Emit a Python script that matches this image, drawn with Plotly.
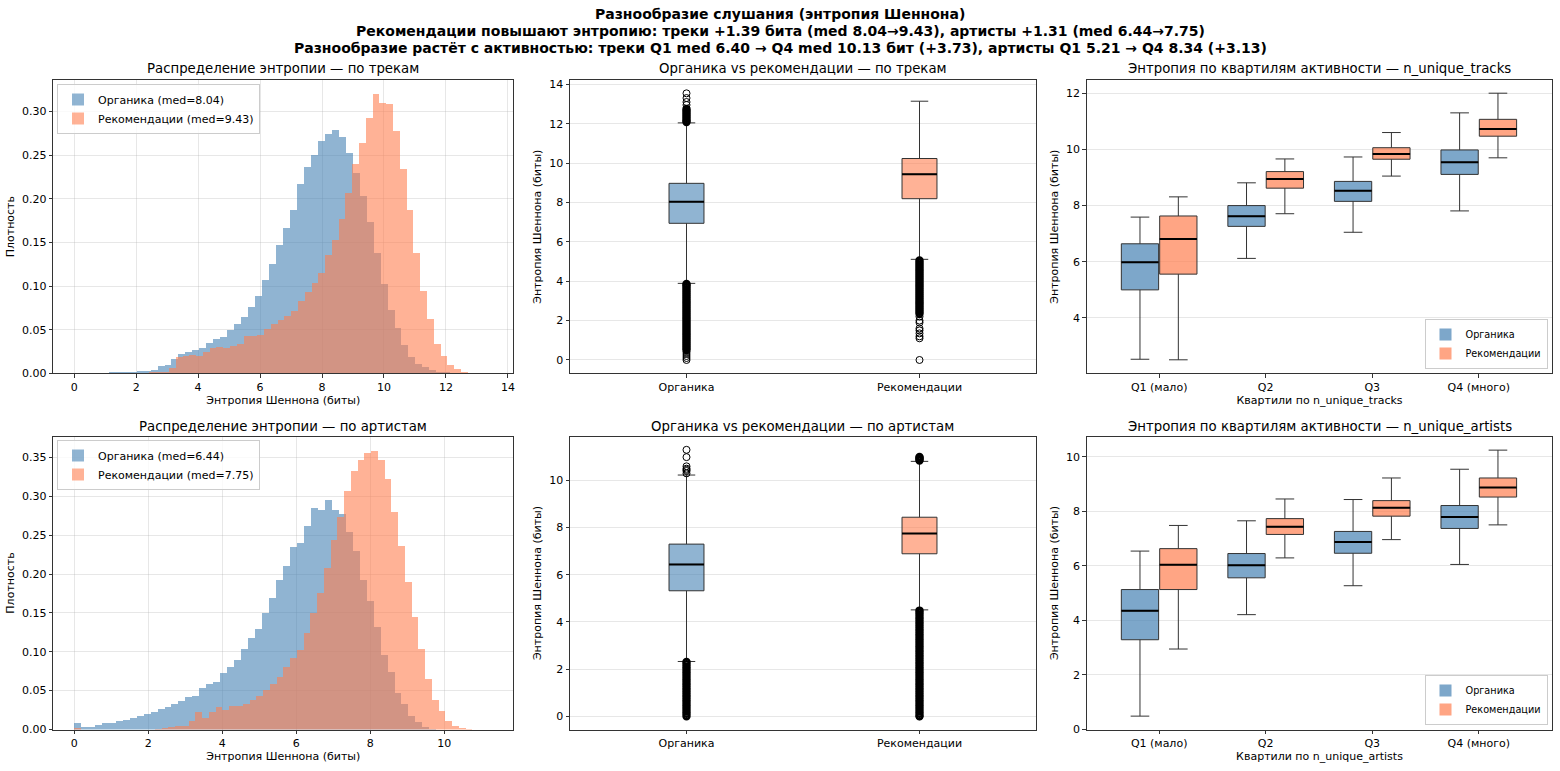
import plotly.graph_objects as go
from plotly.subplots import make_subplots

# ---------------- DATA ----------------
# Histogram densities (60 bins each), bins span [start, end]
tracks_org_range = [0.0, 13.5]
tracks_org_density = [
    0, 0, 0, 0, 0, 0.001, 0.001, 0.001, 0.0015, 0.003,
    0.003, 0.004, 0.008, 0.010, 0.016, 0.022, 0.024, 0.027, 0.029, 0.035,
    0.039, 0.042, 0.050, 0.057, 0.064, 0.076, 0.089, 0.107, 0.125, 0.147,
    0.167, 0.187, 0.217, 0.236, 0.250, 0.266, 0.274, 0.279, 0.271, 0.252,
    0.229, 0.203, 0.173, 0.138, 0.102, 0.072, 0.052, 0.032, 0.019, 0.011,
    0.007, 0.004, 0.002, 0.001, 0.0005, 0.0003, 0.0002, 0.0001, 0.0001, 0.0001,
]
tracks_rec_range = [0.0, 13.15]
tracks_rec_density = [
    0.0003, 0, 0, 0, 0, 0.0003, 0.0003, 0.0003, 0.0003, 0.0003,
    0.0005, 0.001, 0.001, 0.002, 0.006, 0.019, 0.020, 0.021, 0.020, 0.024,
    0.029, 0.030, 0.029, 0.031, 0.034, 0.043, 0.043, 0.044, 0.051, 0.056,
    0.061, 0.066, 0.071, 0.083, 0.093, 0.103, 0.115, 0.136, 0.153, 0.177,
    0.206, 0.240, 0.264, 0.293, 0.320, 0.310, 0.308, 0.278, 0.234, 0.187,
    0.138, 0.094, 0.062, 0.034, 0.020, 0.010, 0.005, 0.002, 0.0005, 0.0003,
]
artists_org_range = [0.0, 11.3]
artists_org_density = [
    0.0086, 0.0043, 0.0043, 0.0065, 0.009, 0.009, 0.011, 0.013, 0.016, 0.018,
    0.021, 0.023, 0.027, 0.030, 0.034, 0.037, 0.042, 0.044, 0.054, 0.059,
    0.062, 0.073, 0.081, 0.090, 0.104, 0.119, 0.130, 0.151, 0.170, 0.193,
    0.211, 0.236, 0.241, 0.262, 0.286, 0.283, 0.296, 0.283, 0.278, 0.255,
    0.230, 0.193, 0.166, 0.132, 0.097, 0.074, 0.048, 0.033, 0.018, 0.010,
    0.0035, 0.0015, 0.0005, 0.0003, 0.0002, 0.0001, 0.0001, 0.0001, 0.0001, 0.0001,
]
artists_rec_range = [0.0, 10.95]
artists_rec_density = [
    0.002, 0.0005, 0.0005, 0.0005, 0.0005, 0.0005, 0.0005, 0.0005, 0.0005, 0.0005,
    0.0005, 0.0005, 0.001, 0.002, 0.004, 0.005, 0.005, 0.011, 0.023, 0.015,
    0.023, 0.029, 0.026, 0.031, 0.031, 0.034, 0.038, 0.044, 0.051, 0.059,
    0.068, 0.081, 0.093, 0.103, 0.125, 0.150, 0.176, 0.209, 0.245, 0.274,
    0.307, 0.333, 0.348, 0.356, 0.359, 0.347, 0.323, 0.281, 0.237, 0.191,
    0.146, 0.104, 0.066, 0.039, 0.024, 0.012, 0.005, 0.002, 0.001, 0.0005,
]
med_tracks = [8.04, 9.43]
med_artists = [6.44, 7.75]

# Overall box stats: [lowerfence, q1, median, q3, upperfence]
box_labels = ["Органика", "Рекомендации"]
box_tracks_org = [3.89, 6.94, 8.04, 8.97, 12.04]
box_tracks_rec = [5.11, 8.19, 9.43, 10.23, 13.14]
box_artists_org = [2.32, 5.32, 6.44, 7.30, 10.23]
box_artists_rec = [4.51, 6.89, 7.75, 8.44, 10.81]

out_tracks_org_dense = [0.5, 0.6, 0.7, 0.8, 0.9, 1.0, 1.1, 1.2, 1.3, 1.4, 1.5, 1.6, 1.7, 1.8,
                        1.9, 2.0, 2.1, 2.2, 2.3, 2.4, 2.5, 2.6, 2.7, 2.8, 2.9, 3.0, 3.1, 3.2,
                        3.3, 3.4, 3.5, 3.6, 3.7, 3.8, 3.86,
                        12.08, 12.15, 12.25, 12.35, 12.45, 12.55, 12.65, 12.75]
out_tracks_org_sparse = [0.0, 0.1, 0.2, 0.3, 0.4, 12.95, 13.1, 13.3, 13.54]
out_tracks_rec_dense = [2.35, 2.45, 2.55, 2.65, 2.75, 2.85, 2.95, 3.05, 3.15, 3.25, 3.35, 3.45,
                        3.55, 3.65, 3.75, 3.85, 3.95, 4.05, 4.15, 4.25, 4.35, 4.45, 4.55, 4.65,
                        4.75, 4.85, 4.95, 5.05]
out_tracks_rec_sparse = [0.0, 1.1, 1.2, 1.35, 1.5, 1.6, 1.9, 2.0, 2.2]
out_artists_org_dense = [0.0, 0.1, 0.2, 0.3, 0.4, 0.5, 0.6, 0.7, 0.8, 0.9, 1.0, 1.1, 1.2, 1.3,
                         1.4, 1.5, 1.6, 1.7, 1.8, 1.9, 2.0, 2.1, 2.2, 2.3]
out_artists_org_sparse = [10.3, 10.4, 10.45, 10.5, 10.6, 10.99, 11.3]
out_artists_rec_dense = [0.0, 0.1, 0.2, 0.3, 0.4, 0.5, 0.6, 0.7, 0.8, 0.9, 1.0, 1.1, 1.2, 1.3,
                         1.4, 1.5, 1.6, 1.7, 1.8, 1.9, 2.0, 2.1, 2.2, 2.3, 2.4, 2.5, 2.6, 2.7,
                         2.8, 2.9, 3.0, 3.1, 3.2, 3.3, 3.4, 3.5, 3.6, 3.7, 3.8, 3.9, 4.0, 4.1,
                         4.2, 4.3, 4.4, 4.48, 10.85, 10.9, 10.95, 11.0]
out_artists_rec_sparse = [0.0]

# Quartile boxes: categories and stats per quartile
quartile_labels = ["Q1 (мало)", "Q2", "Q3", "Q4 (много)"]
qt_org_low = [2.53, 6.12, 7.05, 7.81]
qt_org_q1 = [5.00, 7.26, 8.15, 9.11]
qt_org_med = [5.98, 7.62, 8.53, 9.54]
qt_org_q3 = [6.64, 8.00, 8.86, 9.98]
qt_org_high = [7.59, 8.81, 9.73, 11.30]
qt_rec_low = [2.51, 7.71, 9.05, 9.70]
qt_rec_q1 = [5.56, 8.62, 9.65, 10.47]
qt_rec_med = [6.81, 8.95, 9.84, 10.73]
qt_rec_q3 = [7.63, 9.21, 10.06, 11.07]
qt_rec_high = [8.31, 9.66, 10.60, 12.00]

qa_org_low = [0.49, 4.21, 5.27, 6.05]
qa_org_q1 = [3.29, 5.56, 6.46, 7.37]
qa_org_med = [4.35, 6.02, 6.87, 7.79]
qa_org_q3 = [5.13, 6.45, 7.26, 8.21]
qa_org_high = [6.54, 7.65, 8.43, 9.54]
qa_rec_low = [2.95, 6.29, 6.96, 7.50]
qa_rec_q1 = [5.13, 7.15, 7.82, 8.52]
qa_rec_med = [6.04, 7.43, 8.13, 8.87]
qa_rec_q3 = [6.63, 7.73, 8.39, 9.22]
qa_rec_high = [7.48, 8.45, 9.22, 10.24]

suptitle_lines = [
    "Разнообразие слушания (энтропия Шеннона)",
    "Рекомендации повышают энтропию: треки +1.39 бита (med 8.04→9.43), артисты +1.31 (med 6.44→7.75)",
    "Разнообразие растёт с активностью: треки Q1 med 6.40 → Q4 med 10.13 бит (+3.73), артисты Q1 5.21 → Q4 8.34 (+3.13)",
]
panel_titles = [
    "Распределение энтропии — по трекам",
    "Органика vs рекомендации — по трекам",
    "Энтропия по квартилям активности — n_unique_tracks",
    "Распределение энтропии — по артистам",
    "Органика vs рекомендации — по артистам",
    "Энтропия по квартилям активности — n_unique_artists",
]

# ---------------- STYLE ----------------
W, H = 1560, 771
FONT = "DejaVu Sans"
BLUE_H = "rgba(70,130,180,0.6)"
RED_H = "rgba(255,127,80,0.6)"
BLUE_B = "rgba(70,130,180,0.7)"
RED_B = "rgba(255,127,80,0.7)"
GRID = "rgba(176,176,176,0.3)"
AX = "#333333"

col_px = [(53.3, 513.3), (570.0, 1036.0), (1086.7, 1552.3)]
row_px = [(80.0, 373.3), (436.5, 729.5)]

fig = make_subplots(rows=2, cols=3)


def hist_bars(density, rng, color, name, row, col, legend):
    n = len(density)
    bw = (rng[1] - rng[0]) / n
    centers = [rng[0] + bw * (i + 0.5) for i in range(n)]
    fig.add_trace(go.Bar(x=centers, y=density, width=bw, name=name,
                         marker=dict(color=color, line=dict(width=0)),
                         legend=legend), row=row, col=col)


hist_bars(tracks_org_density, tracks_org_range, BLUE_H, f"Органика (med={med_tracks[0]:.2f})", 1, 1, "legend")
hist_bars(tracks_rec_density, tracks_rec_range, RED_H, f"Рекомендации (med={med_tracks[1]:.2f})", 1, 1, "legend")
hist_bars(artists_org_density, artists_org_range, BLUE_H, f"Органика (med={med_artists[0]:.2f})", 2, 1, "legend2")
hist_bars(artists_rec_density, artists_rec_range, RED_H, f"Рекомендации (med={med_artists[1]:.2f})", 2, 1, "legend2")


def add_boxes(pos, low, q1, med, q3, high, fill, name, width, row, col):
    fig.add_trace(go.Box(x=pos, lowerfence=low, q1=q1, median=med, q3=q3, upperfence=high,
                         width=width, fillcolor=fill, whiskerwidth=0.5, boxpoints=False,
                         line=dict(color=AX, width=1), name=name, showlegend=False,
                         hoverinfo="skip"),
                  row=row, col=col)
    mx, my = [], []
    for p, m in zip(pos, med):
        mx += [p - width / 2, p + width / 2, None]
        my += [m, m, None]
    fig.add_trace(go.Scatter(x=mx, y=my, mode="lines", line=dict(color="black", width=2),
                             showlegend=False, hoverinfo="skip"), row=row, col=col)


def add_outliers(x, vals, row, col, dense):
    if not vals:
        return
    fig.add_trace(go.Scatter(x=[x] * len(vals), y=vals, mode="markers",
                             marker=dict(symbol="circle-open", size=6 if dense else 7,
                                         color="black",
                                         line=dict(width=2.4 if dense else 1, color="black")),
                             showlegend=False, hoverinfo="skip"), row=row, col=col)


# middle panels
middle = [
    (box_tracks_org, box_tracks_rec, out_tracks_org_dense, out_tracks_org_sparse,
     out_tracks_rec_dense, out_tracks_rec_sparse, 1),
    (box_artists_org, box_artists_rec, out_artists_org_dense, out_artists_org_sparse,
     out_artists_rec_dense, out_artists_rec_sparse, 2),
]
for org, rec, od, osp, rd, rsp, row in middle:
    add_outliers(1, od, row, 2, True)
    add_outliers(1, osp, row, 2, False)
    add_outliers(2, rd, row, 2, True)
    add_outliers(2, rsp, row, 2, False)
    add_boxes([1], [org[0]], [org[1]], [org[2]], [org[3]], [org[4]], BLUE_H, box_labels[0], 0.15, row, 2)
    add_boxes([2], [rec[0]], [rec[1]], [rec[2]], [rec[3]], [rec[4]], RED_H, box_labels[1], 0.15, row, 2)

# right panels
org_pos = [i + 1 - 0.18 for i in range(4)]
rec_pos = [i + 1 + 0.18 for i in range(4)]
add_boxes(org_pos, qt_org_low, qt_org_q1, qt_org_med, qt_org_q3, qt_org_high, BLUE_B, "Органика", 0.35, 1, 3)
add_boxes(rec_pos, qt_rec_low, qt_rec_q1, qt_rec_med, qt_rec_q3, qt_rec_high, RED_B, "Рекомендации", 0.35, 1, 3)
add_boxes(org_pos, qa_org_low, qa_org_q1, qa_org_med, qa_org_q3, qa_org_high, BLUE_B, "Органика", 0.35, 2, 3)
add_boxes(rec_pos, qa_rec_low, qa_rec_q1, qa_rec_med, qa_rec_q3, qa_rec_high, RED_B, "Рекомендации", 0.35, 2, 3)

# legend swatches for the quartile panels (filled patches, as in the original)
for row, leg in [(1, "legend3"), (2, "legend4")]:
    for name, colr in [("Органика", BLUE_B), ("Рекомендации", RED_B)]:
        fig.add_trace(go.Bar(x=[None], y=[None], name=name, marker=dict(color=colr, line=dict(width=0)),
                             legend=leg, showlegend=True, hoverinfo="skip"), row=row, col=3)

# ---------------- LAYOUT ----------------
def xd(c):
    return [col_px[c][0] / W, col_px[c][1] / W]


def yd(r):
    return [1 - row_px[r][1] / H, 1 - row_px[r][0] / H]


axis_common = dict(showline=True, mirror=True, linecolor=AX, linewidth=1,
                   ticks="outside", ticklen=3.5, tickwidth=0.8, tickcolor=AX,
                   zeroline=False, gridcolor=GRID, gridwidth=0.8,
                   tickfont=dict(family=FONT, size=11, color="black"),
                   automargin=False)
title_font = dict(family=FONT, size=11, color="black")

xcfg = {
    1: dict(range=[-0.675, 14.175], tickvals=list(range(0, 15, 2)), showgrid=True,
            title=dict(text="Энтропия Шеннона (биты)", font=title_font, standoff=2)),
    2: dict(range=[0.5, 2.5], tickvals=[1, 2], ticktext=box_labels, showgrid=False),
    3: dict(range=[0.32, 4.69], tickvals=[1, 2, 3, 4], ticktext=quartile_labels, showgrid=False,
            title=dict(text="Квартили по n_unique_tracks", font=title_font, standoff=2)),
    4: dict(range=[-0.565, 11.865], tickvals=list(range(0, 11, 2)), showgrid=True,
            title=dict(text="Энтропия Шеннона (биты)", font=title_font, standoff=2)),
    5: dict(range=[0.5, 2.5], tickvals=[1, 2], ticktext=box_labels, showgrid=False),
    6: dict(range=[0.32, 4.69], tickvals=[1, 2, 3, 4], ticktext=quartile_labels, showgrid=False,
            title=dict(text="Квартили по n_unique_artists", font=title_font, standoff=2)),
}
ycfg = {
    1: dict(range=[0, 0.336], tickvals=[0, 0.05, 0.1, 0.15, 0.2, 0.25, 0.3], tickformat=".2f",
            title=dict(text="Плотность", font=title_font, standoff=5)),
    2: dict(range=[-0.677, 14.217], tickvals=list(range(0, 15, 2)),
            title=dict(text="Энтропия Шеннона (биты)", font=title_font, standoff=5)),
    3: dict(range=[2.03, 12.47], tickvals=[4, 6, 8, 10, 12],
            title=dict(text="Энтропия Шеннона (биты)", font=title_font, standoff=5)),
    4: dict(range=[0, 0.377], tickvals=[0, 0.05, 0.1, 0.15, 0.2, 0.25, 0.3, 0.35], tickformat=".2f",
            title=dict(text="Плотность", font=title_font, standoff=5)),
    5: dict(range=[-0.565, 11.865], tickvals=list(range(0, 11, 2)),
            title=dict(text="Энтропия Шеннона (биты)", font=title_font, standoff=5)),
    6: dict(range=[0, 10.74], tickvals=list(range(0, 11, 2)),
            title=dict(text="Энтропия Шеннона (биты)", font=title_font, standoff=5)),
}

for i in range(1, 7):
    r = 0 if i <= 3 else 1
    c = (i - 1) % 3
    xk = "xaxis" if i == 1 else f"xaxis{i}"
    yk = "yaxis" if i == 1 else f"yaxis{i}"
    fig.layout[xk].update(domain=xd(c), **axis_common, **xcfg[i])
    fig.layout[yk].update(domain=yd(r), **axis_common, showgrid=True, **ycfg[i])

annotations = []
sup_y = [14.0, 31.3, 48.0]
for line, yp in zip(suptitle_lines, sup_y):
    annotations.append(dict(text=f"<b>{line}</b>", x=0.5, y=1 - yp / H, xref="paper", yref="paper",
                            xanchor="center", yanchor="middle", showarrow=False,
                            font=dict(family=FONT, size=14, color="black")))
title_y = [68.8, 426.0]
for k, t in enumerate(panel_titles):
    r = 0 if k < 3 else 1
    c = k % 3
    annotations.append(dict(text=t, x=(col_px[c][0] + col_px[c][1]) / 2 / W, y=1 - title_y[r] / H,
                            xref="paper", yref="paper", xanchor="center", yanchor="middle",
                            showarrow=False, font=dict(family=FONT, size=13.3, color="black")))

leg_common = dict(bgcolor="rgba(255,255,255,0.8)", bordercolor="#cccccc", borderwidth=1,
                  xref="paper", yref="paper", tracegroupgap=0, itemsizing="constant")
fig.update_layout(
    width=W, height=H, margin=dict(l=0, r=0, t=0, b=0),
    paper_bgcolor="white", plot_bgcolor="white",
    font=dict(family=FONT, color="black"),
    barmode="overlay", bargap=0, boxmode="overlay",
    annotations=annotations,
    legend=dict(x=57 / W, y=1 - 84 / H, xanchor="left", yanchor="top",
                font=dict(family=FONT, size=11), **leg_common),
    legend2=dict(x=57 / W, y=1 - 440 / H, xanchor="left", yanchor="top",
                 font=dict(family=FONT, size=11), **leg_common),
    legend3=dict(x=1547.5 / W, y=1 - 369 / H, xanchor="right", yanchor="bottom",
                 font=dict(family=FONT, size=9.7), **leg_common),
    legend4=dict(x=1547.5 / W, y=1 - 725 / H, xanchor="right", yanchor="bottom",
                 font=dict(family=FONT, size=9.7), **leg_common),
)

# the page body has a default 8px margin; remove it so the figure fills the window exactly
fig.write_html("out.html", config={"displayModeBar": False},
               post_script="document.body.style.margin='0';")
